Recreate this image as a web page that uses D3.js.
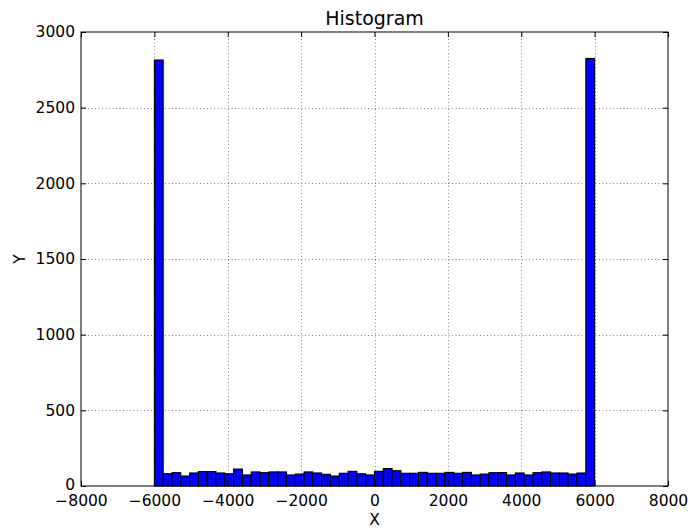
<!DOCTYPE html>
<html>
<head>
<meta charset="utf-8">
<script src="https://cdn.jsdelivr.net/npm/d3@7"></script>
<style>
  html, body { margin: 0; padding: 0; background: #fff; }
  svg { display: block; }
  text { font-family: "DejaVu Sans", sans-serif; fill: #000; }
</style>
</head>
<body>
<svg id="chart" width="688" height="529"></svg>
<script>
// Histogram bin counts (50 equal-width bins between binMin and binMax)
const binMin = -6000;
const binMax = 6000;
const binCount = 50;
const counts = [
  2815, 81, 88, 66, 86, 95, 95, 86, 81, 112,
  73, 93, 88, 93, 93, 73, 79, 93, 86, 77,
  66, 84, 97, 81, 73, 97, 115, 101, 84, 84,
  90, 84, 84, 90, 84, 90, 73, 79, 88, 89,
  73, 86, 73, 88, 93, 86, 86, 79, 86, 2825
];
const xTicks = [-8000, -6000, -4000, -2000, 0, 2000, 4000, 6000, 8000];
const yTicks = [0, 500, 1000, 1500, 2000, 2500, 3000];
const xDomain = [-8000, 8000];
const yDomain = [0, 3000];
const titleText = "Histogram";
const xLabel = "X";
const yLabel = "Y";

const binWidth = (binMax - binMin) / binCount;
const bins = counts.map((c, i) => ({
  x0: binMin + i * binWidth,
  x1: binMin + (i + 1) * binWidth,
  count: c
}));

const margin = { left: 81, top: 32, right: 20, bottom: 43 };
const svg = d3.select("#chart");
const W = +svg.attr("width"), H = +svg.attr("height");
const innerW = W - margin.left - margin.right;
const innerH = H - margin.top - margin.bottom;

const x = d3.scaleLinear().domain(xDomain).range([0, innerW]);
const y = d3.scaleLinear().domain(yDomain).range([innerH, 0]);

const g = svg.append("g").attr("transform", `translate(${margin.left},${margin.top})`);

const fmt = v => (v < 0 ? "\u2212" + Math.abs(v) : String(v));
const tickFont = "15.5px";

// Bars
g.append("g").selectAll("rect")
  .data(bins)
  .join("rect")
  .attr("x", d => x(d.x0))
  .attr("y", d => y(d.count))
  .attr("width", d => x(d.x1) - x(d.x0))
  .attr("height", d => y(0) - y(d.count))
  .attr("fill", "#0000ff")
  .attr("stroke", "#000")
  .attr("stroke-width", 1.1);

// Dotted grid drawn over the bars
const grid = g.append("g").attr("stroke", "#000").attr("stroke-width", 0.6)
  .attr("stroke-dasharray", "1,2.5").attr("opacity", 0.8);
grid.selectAll("line.vx").data(xTicks.slice(1, -1)).join("line")
  .attr("x1", d => Math.round(x(d)) + 0.5).attr("x2", d => Math.round(x(d)) + 0.5)
  .attr("y1", 0).attr("y2", innerH);
grid.selectAll("line.hy").data(yTicks.slice(1, -1)).join("line")
  .attr("y1", d => Math.round(y(d)) + 0.5).attr("y2", d => Math.round(y(d)) + 0.5)
  .attr("x1", 0).attr("x2", innerW);

// Axes with inward ticks on all four sides
const tickLen = 5;
const axisStyle = sel => {
  sel.select(".domain").remove();
  sel.selectAll(".tick line").attr("stroke", "#000").attr("stroke-width", 1);
};
g.append("g").attr("transform", `translate(0,${innerH})`)
  .call(d3.axisBottom(x).tickValues(xTicks).tickFormat(fmt).tickSizeInner(-tickLen).tickSizeOuter(0).tickPadding(9))
  .call(axisStyle)
  .call(s => s.selectAll("text").attr("font-size", tickFont).attr("font-family", "DejaVu Sans"));
g.append("g")
  .call(d3.axisTop(x).tickValues(xTicks).tickFormat("").tickSizeInner(-tickLen).tickSizeOuter(0))
  .call(axisStyle);
g.append("g")
  .call(d3.axisLeft(y).tickValues(yTicks).tickFormat(fmt).tickSizeInner(-tickLen).tickSizeOuter(0).tickPadding(6))
  .call(axisStyle)
  .call(s => s.selectAll("text").attr("font-size", tickFont).attr("font-family", "DejaVu Sans")
    .attr("dy", d => (d === 0 ? "0.2em" : "0.32em")));
g.append("g").attr("transform", `translate(${innerW},0)`)
  .call(d3.axisRight(y).tickValues(yTicks).tickFormat("").tickSizeInner(-tickLen).tickSizeOuter(0))
  .call(axisStyle);

// Frame
g.append("rect").attr("x", 0).attr("y", 0).attr("width", innerW).attr("height", innerH)
  .attr("fill", "none").attr("stroke", "#000").attr("stroke-width", 1);

// Title and axis labels
svg.append("text").attr("x", margin.left + innerW / 2).attr("y", 25)
  .attr("text-anchor", "middle").attr("font-size", "19px").text(titleText);
svg.append("text").attr("x", margin.left + innerW / 2).attr("y", 525)
  .attr("text-anchor", "middle").attr("font-size", tickFont).text(xLabel);
svg.append("text").attr("transform", `translate(25,${margin.top + innerH / 2}) rotate(-90)`)
  .attr("text-anchor", "middle").attr("font-size", tickFont).text(yLabel);
</script>
</body>
</html>
